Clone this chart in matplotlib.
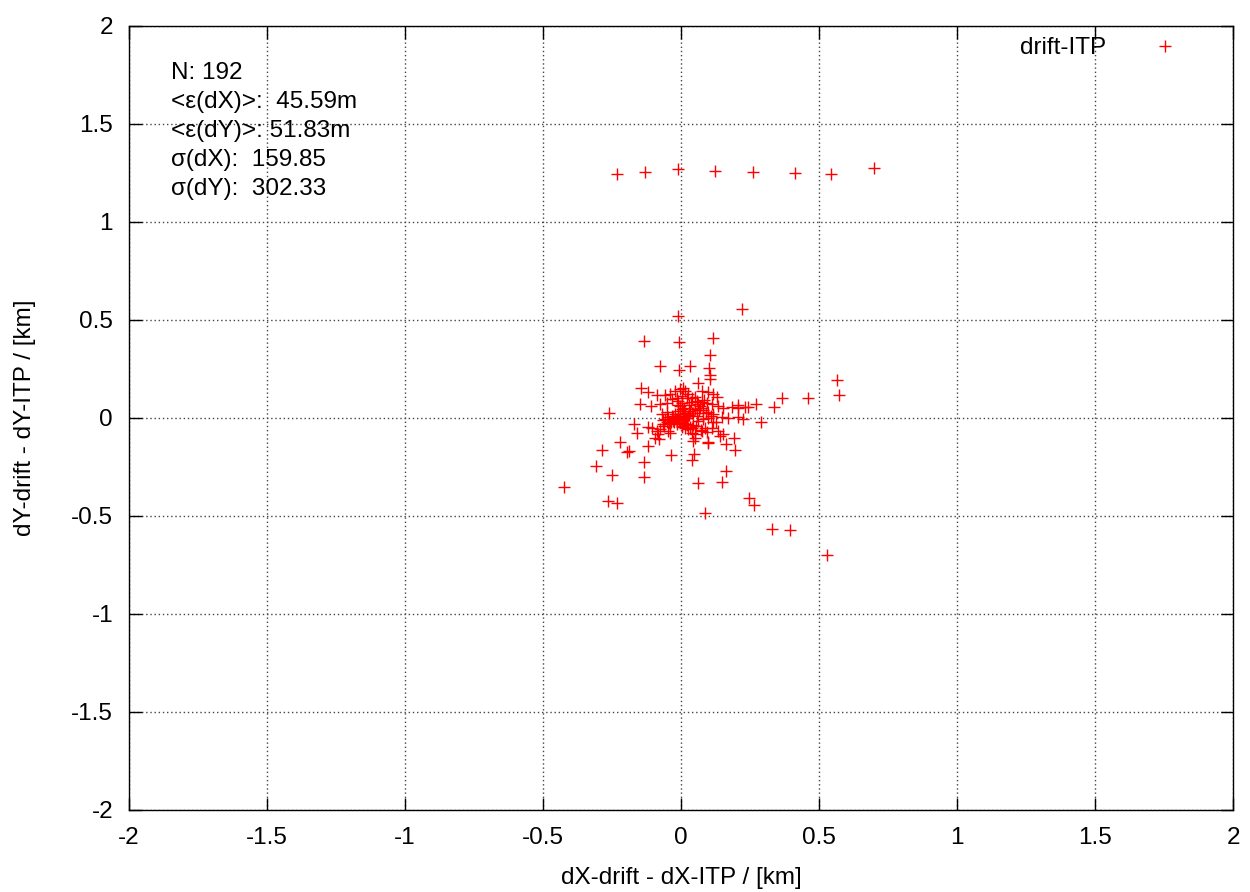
import numpy as np
import matplotlib
matplotlib.use("Agg")
import matplotlib.pyplot as plt

plt.rcParams["font.family"] = ["Liberation Sans", "DejaVu Sans"]

# Offsets drift - ITP, in km
dx_km = [
    # isolated row near y=1.25
    -0.233, -0.132, -0.010, 0.123, 0.261, 0.413, 0.543, 0.699,
    # scattered points
    0.221, -0.012, -0.135, -0.008, 0.117, 0.104, -0.076, 0.034, -0.008, 0.101,
    0.104, 0.104, 0.063, 0.565, 0.574, -0.145, -0.118, 0.367, 0.459, -0.150,
    -0.109, -0.261, 0.336, 0.272, 0.232, 0.208, 0.291, 0.226, -0.170, -0.161,
    -0.222, -0.287, -0.188, -0.196, -0.121, -0.307, -0.135, -0.249, -0.133, -0.425,
    -0.035, 0.046, 0.040, 0.063, 0.164, 0.150, 0.196, 0.191, 0.164, 0.099,
    -0.266, -0.231, 0.245, 0.266, 0.087, 0.331, 0.394, 0.528,
    # dense core
    -0.086, -0.058, -0.040, -0.022, -0.004, 0.014, 0.008, 0.027, 0.051, 0.075,
    0.099, 0.117, 0.129, -0.076, -0.052, -0.034, -0.016, 0.002, 0.020, 0.039,
    0.057, 0.075, 0.093, 0.111, 0.135, 0.153, 0.184, 0.205, 0.244, -0.070,
    -0.058, -0.046, -0.034, -0.022, -0.010, 0.002, 0.014, 0.033, 0.051, 0.069,
    0.081, 0.099, 0.117, 0.147, 0.171, 0.208, -0.064, -0.052, -0.040, -0.028,
    -0.016, -0.004, 0.008, 0.020, 0.033, 0.045, 0.063, 0.081, 0.099, 0.117,
    -0.106, -0.118, -0.088, -0.076, -0.060, -0.046, -0.040, 0.002, 0.014, 0.027,
    0.039, 0.051, 0.075, 0.087, 0.111, 0.135, 0.153, 0.141, 0.051, 0.045,
    0.099, -0.094, -0.080, -0.085, -0.010, -0.004, 0.002, -0.010, 0.008, -0.004,
    -0.012, 0.014, 0.027, 0.039, 0.057, -0.030, -0.018, 0.010, 0.022, 0.036,
    0.060, 0.070, 0.085, -0.050, -0.030, -0.008, 0.016, 0.030, 0.044, 0.066,
    0.090, 0.108, 0.125, -0.066, -0.044, -0.024, 0.004, 0.018, 0.040, 0.054,
    0.072, 0.094, 0.030, 0.012, -0.014, -0.036,
]
dy_km = [
    1.245, 1.253, 1.268, 1.260, 1.256, 1.250, 1.245, 1.278,
    0.558, 0.522, 0.392, 0.386, 0.408, 0.320, 0.263, 0.263, 0.246, 0.256,
    0.219, 0.200, 0.180, 0.195, 0.117, 0.151, 0.134, 0.102, 0.102, 0.073,
    0.059, 0.027, 0.058, 0.069, 0.058, 0.066, -0.020, -0.007, -0.032, -0.075,
    -0.122, -0.164, -0.168, -0.173, -0.144, -0.247, -0.225, -0.290, -0.302, -0.351,
    -0.190, -0.183, -0.215, -0.331, -0.271, -0.325, -0.164, -0.103, -0.132, -0.127,
    -0.425, -0.432, -0.407, -0.444, -0.486, -0.566, -0.571, -0.697,
    0.117, 0.117, 0.120, 0.137, 0.146, 0.137, 0.154, 0.120, 0.107, 0.137,
    0.134, 0.120, 0.107, 0.073, 0.078, 0.095, 0.103, 0.112, 0.103, 0.100,
    0.086, 0.081, 0.078, 0.069, 0.061, 0.053, 0.056, 0.053, 0.056, 0.019,
    -0.007, 0.005, 0.010, 0.022, 0.036, 0.044, 0.027, 0.036, 0.044, 0.053,
    0.039, 0.032, 0.019, 0.005, 0.002, 0.005, -0.012, -0.019, -0.024, -0.015,
    -0.007, -0.012, -0.024, -0.036, -0.044, -0.036, -0.015, -0.007, 0.002, -0.019,
    -0.049, -0.046, -0.066, -0.058, -0.041, -0.066, -0.075, -0.041, -0.049, -0.058,
    -0.075, -0.083, -0.066, -0.053, -0.049, -0.066, -0.083, -0.092, -0.100, -0.117,
    -0.125, -0.100, -0.108, -0.083, 0.086, 0.061, 0.078, 0.066, 0.036, 0.019,
    0.010, 0.019, 0.010, 0.027, 0.010, 0.000, -0.005, 0.003, -0.002, 0.080,
    0.070, 0.060, 0.090, 0.030, 0.004, -0.010, 0.000, 0.015, 0.028, 0.040,
    0.025, 0.012, -0.020, -0.030, -0.028, -0.022, -0.046, -0.030, -0.052, -0.040,
    -0.060, -0.070, 0.065, 0.050, -0.030, -0.020,
]

stats_text = ["N: 192", "<\u03b5(dX)>:  45.59m", "<\u03b5(dY)>: 51.83m",
              "\u03c3(dX):  159.85", "\u03c3(dY):  302.33"]
ticks = [-2, -1.5, -1, -0.5, 0, 0.5, 1, 1.5, 2]

W, H = 1250, 892
FS = 17.5

fig = plt.figure(figsize=(W / 100, H / 100), dpi=100)
ax = fig.add_axes([129 / W, 1 - 810 / H, 1104 / W, 784 / H])

ax.plot(dx_km, dy_km, linestyle="none", marker="+", color="#ff0000",
        markersize=8.5, markeredgewidth=1.0, label="drift-ITP")

ax.set_xlim(-2, 2)
ax.set_ylim(-2, 2)
ax.set_xticks(ticks)
ax.set_yticks(ticks)
ax.set_xticklabels([f"{t:g}" for t in ticks])
ax.set_yticklabels([f"{t:g}" for t in ticks])
ax.tick_params(direction="in", length=9, width=1, top=True, right=True,
               labelsize=FS)
ax.tick_params(axis="x", pad=12.5)
ax.tick_params(axis="y", pad=11.5)
ax.grid(True, linestyle=(0, (1, 2)), color="#444444", linewidth=1.0)
for s in ax.spines.values():
    s.set_linewidth(1.0)

fig.text(681 / W, 1 - 878 / H, "dX-drift - dX-ITP / [km]", fontsize=FS,
         ha="center", va="center")
fig.text(25 / W, 1 - 418 / H, "dY-drift - dY-ITP / [km]", fontsize=FS,
         ha="center", va="center", rotation=90)

for i, line in enumerate(stats_text):
    fig.text(171 / W, 1 - (73 + i * 29) / H, line, fontsize=FS,
             ha="left", va="center")

ax.legend(loc="center right", frameon=False, fontsize=FS, markerfirst=False,
          handlelength=1.0, handletextpad=1.9, borderpad=0, borderaxespad=0,
          bbox_to_anchor=(1177 / W, 1 - 48 / H), bbox_transform=fig.transFigure)

fig.savefig("out.png", dpi=100)
